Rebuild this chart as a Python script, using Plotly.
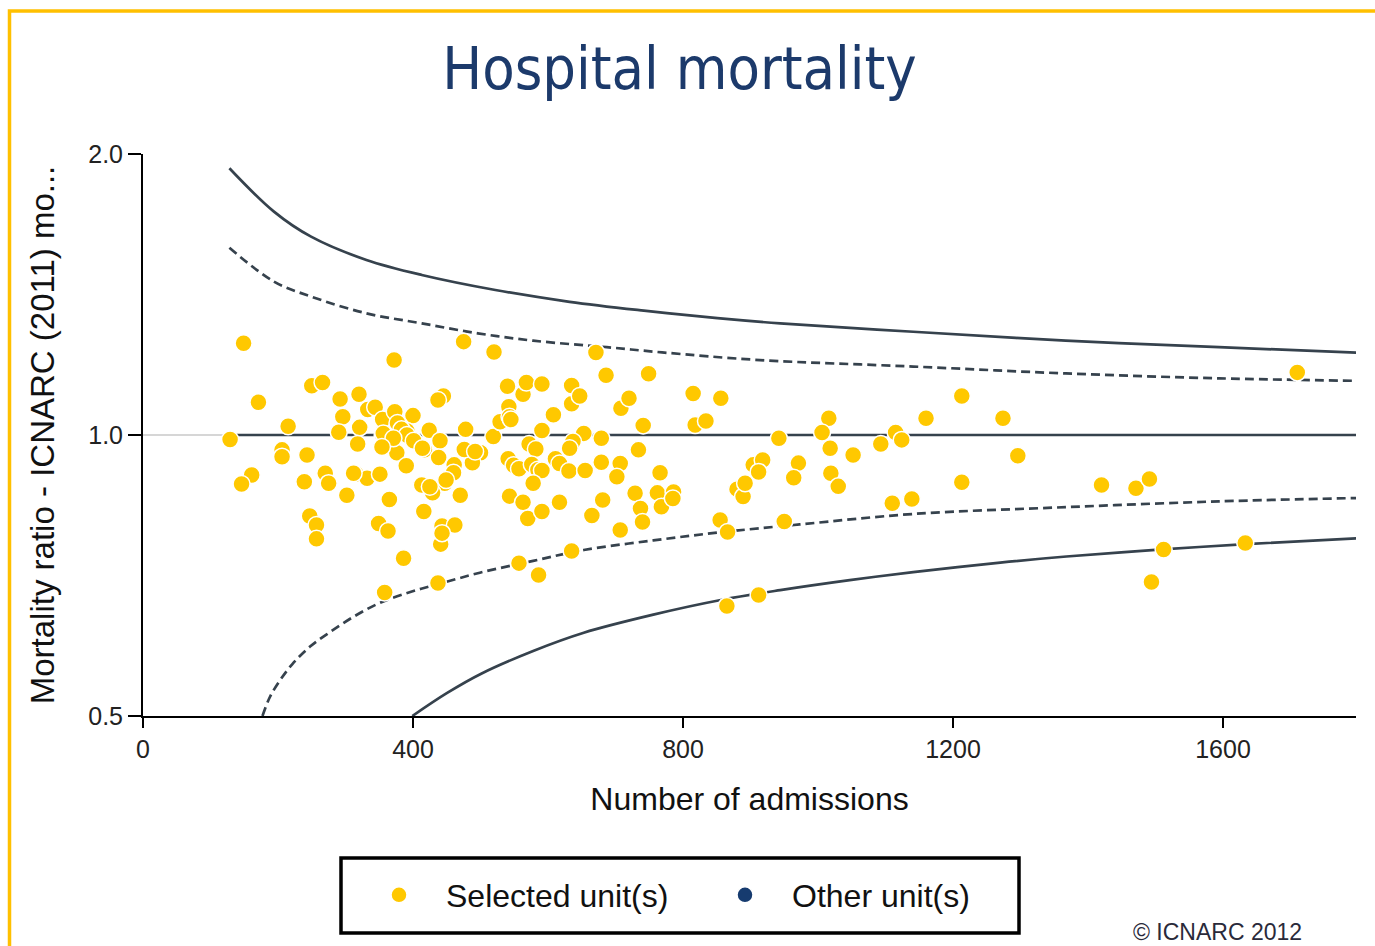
import math
import plotly.graph_objects as go

# ---- data ----
adm = [149, 372, 171, 250, 266, 292, 320, 296, 333, 344,
       321, 290, 318, 129, 215, 206, 206, 243, 161, 146,
       239, 270, 275, 302, 316, 332, 351, 365, 247, 257,
       257, 349, 363, 386, 358, 437, 475, 520, 445, 437,
       355, 373, 400, 381, 391, 355, 355, 372, 400, 424,
       440, 478, 376, 390, 417, 438, 461, 475, 500, 488,
       460, 447, 413, 429, 470, 416, 443, 462, 441, 443,
       519, 529, 377, 383, 356, 391, 371, 401, 414, 354,
       476, 492, 312, 449, 425,
       671, 686, 749, 540, 563, 568, 591, 635, 635, 647,
       708, 720, 815, 818, 834, 542, 543, 545, 608, 741,
       591, 653, 679, 572, 582, 637, 632, 734, 541, 549,
       557, 576, 585, 591, 611, 617, 631, 655, 679, 707,
       702, 766, 578, 543, 563, 570, 591, 617, 665, 681,
       729, 737, 740, 707, 762, 768, 786, 785, 635, 557,
       586, 855, 866, 865, 912, 880, 889, 892, 904, 918,
       912, 942,
       1710, 856, 1213, 1016, 1160, 1274, 1006, 1018, 1052, 1093,
       1115, 1124, 1296, 971, 964, 1019, 1030, 1213, 1110, 1139,
       1420, 1471, 1491, 950, 1512, 1633, 1494]
ratio = [1.254, 1.203, 1.084, 1.129, 1.138, 1.093, 1.106, 1.046, 1.065, 1.071,
         1.019, 1.007, 0.978, 0.989, 1.022, 0.964, 0.948, 0.952, 0.906, 0.886,
         0.891, 0.910, 0.888, 0.862, 0.908, 0.899, 0.908, 0.853, 0.819, 0.801,
         0.774, 0.804, 0.789, 0.738, 0.678, 0.694, 1.259, 1.227, 1.101, 1.090,
         1.039, 1.059, 1.049, 1.022, 1.010, 1.000, 0.973, 0.993, 0.988, 1.012,
         0.986, 1.014, 0.957, 0.927, 0.964, 0.946, 0.929, 0.964, 0.957, 0.934,
         0.911, 0.888, 0.884, 0.867, 0.862, 0.828, 0.799, 0.801, 0.764, 0.785,
         0.996, 1.033, 1.030, 1.014, 1.004, 1.000, 0.992, 0.986, 0.968, 0.971,
         0.965, 0.960, 0.910, 0.895, 0.880,
         1.226, 1.159, 1.163, 1.128, 1.106, 1.138, 1.134, 1.130, 1.080, 1.101,
         1.068, 1.095, 1.108, 1.025, 1.035, 1.072, 1.046, 1.039, 1.051, 1.024,
         1.011, 1.004, 0.992, 0.978, 0.966, 0.984, 0.968, 0.964, 0.943, 0.928,
         0.920, 0.930, 0.918, 0.916, 0.943, 0.932, 0.915, 0.916, 0.935, 0.932,
         0.902, 0.911, 0.888, 0.860, 0.847, 0.814, 0.828, 0.847, 0.820, 0.852,
         0.866, 0.834, 0.807, 0.791, 0.867, 0.838, 0.869, 0.855, 0.751, 0.729,
         0.708, 0.811, 0.787, 0.656, 0.674, 0.875, 0.859, 0.888, 0.929, 0.940,
         0.913, 0.992,
         1.167, 1.095, 1.101, 1.042, 1.042, 1.042, 1.006, 0.968, 0.952, 0.978,
         1.006, 0.988, 0.950, 0.933, 0.900, 0.910, 0.881, 0.890, 0.845, 0.854,
         0.884, 0.877, 0.897, 0.808, 0.754, 0.766, 0.696]

upper_998_x = [128, 194, 249, 331, 413, 522, 632, 742, 851, 944, 1141, 1367, 1594, 1798]
upper_998_y = [1.931, 1.735, 1.631, 1.540, 1.484, 1.430, 1.389, 1.359, 1.334, 1.317, 1.290, 1.262, 1.242, 1.225]
upper_95_x = [128, 194, 249, 331, 413, 496, 578, 687, 769, 914, 1141, 1367, 1594, 1798]
upper_95_y = [1.587, 1.460, 1.407, 1.350, 1.317, 1.285, 1.262, 1.242, 1.226, 1.203, 1.184, 1.164, 1.150, 1.143]
lower_95_x = [177, 188, 203, 221, 247, 277, 314, 351, 396, 440, 499, 578, 653, 756, 858, 973, 1141, 1368, 1594, 1798]
lower_95_y = [0.500, 0.524, 0.546, 0.568, 0.593, 0.615, 0.640, 0.661, 0.679, 0.693, 0.712, 0.733, 0.753, 0.771, 0.787,
              0.802, 0.823, 0.837, 0.849, 0.856]
lower_998_x = [399, 450, 501, 578, 653, 756, 858, 944, 1047, 1141, 1270, 1368, 1510, 1634, 1798]
lower_998_y = [0.500, 0.529, 0.555, 0.587, 0.614, 0.642, 0.666, 0.682, 0.699, 0.713, 0.730, 0.741, 0.754, 0.764, 0.775]
target_x = [128, 1798]
target_y = [1.0, 1.0]

x_ticks = [0, 400, 800, 1200, 1600]
y_ticks = [0.5, 1.0, 2.0]
y_tick_text = ["0.5", "1.0", "2.0"]

# ---- figure ----
LINE = "#36424d"
fig = go.Figure()
for xs, ys, dash in [(upper_998_x, upper_998_y, "solid"),
                     (upper_95_x, upper_95_y, "9px,5px"),
                     (lower_95_x, lower_95_y, "9px,5px"),
                     (lower_998_x, lower_998_y, "solid"),
                     (target_x, target_y, "solid")]:
    fig.add_trace(go.Scatter(x=xs, y=ys, mode="lines",
                             line=dict(color=LINE, width=2.7, dash=dash, shape="spline", smoothing=1),
                             showlegend=False, hoverinfo="skip"))

fig.add_trace(go.Scatter(x=adm, y=ratio, mode="markers", name="Selected unit(s)",
                         marker=dict(size=17, color="#FFC800", line=dict(color="white", width=1.5))))
fig.add_trace(go.Scatter(x=[None], y=[None], mode="markers", name="Other unit(s)",
                         marker=dict(size=17, color="#163B6F", line=dict(color="white", width=1.5))))

# plot area in pixels: left 143, right 1356, top 154, bottom 716
PL, PR, PT, PB = 143, 1356, 154, 716
W, H = PR - PL, PB - PT
def px(x):
    return (x - PL) / W
def py(y):
    return (PB - y) / H

TXT = "Liberation Sans, Arial, sans-serif"
fig.update_layout(
    width=1375, height=946,
    margin=dict(l=PL, r=1375 - PR, t=PT, b=946 - PB),
    paper_bgcolor="white", plot_bgcolor="white",
    title=dict(text="Hospital mortality", xref="container", yref="container",
               x=679.5 / 1375, xanchor="center", y=1 - 68 / 946, yanchor="middle",
               font=dict(family="DejaVu Sans Condensed, DejaVu Sans, sans-serif", size=59, color="#1c3a6b")),
    xaxis=dict(range=[0, 1797], tickvals=x_ticks, showgrid=False, zeroline=False,
               showline=True, linecolor="black", linewidth=2,
               ticks="outside", ticklen=10, tickwidth=2, tickcolor="black",
               tickfont=dict(family=TXT, size=25, color="#222"),
               title=dict(text="Number of admissions", standoff=26,
                          font=dict(family=TXT, size=32, color="#111"))),
    yaxis=dict(type="log", range=[math.log10(0.5), math.log10(2.0)],
               tickvals=y_ticks, ticktext=y_tick_text,
               showgrid=True, gridcolor="#d6d6d6", gridwidth=1.5, zeroline=False,
               showline=True, linecolor="black", linewidth=2,
               ticks="outside", ticklen=13, tickwidth=2, tickcolor="black",
               tickfont=dict(family=TXT, size=25, color="#222"),
               title=dict(text="Mortality ratio - ICNARC (2011) mo...", standoff=24,
                          font=dict(family=TXT, size=33, color="#111"))),
    legend=dict(orientation="h", x=px(352), y=py(895), xanchor="left", yanchor="middle",
                itemwidth=84, entrywidth=247, entrywidthmode="pixels",
                font=dict(family=TXT, size=32, color="#111"),
                bgcolor="rgba(0,0,0,0)", borderwidth=0),
    shapes=[
        dict(type="rect", xref="paper", yref="paper",
             x0=px(341), x1=px(1019), y0=py(933), y1=py(858),
             line=dict(color="black", width=3.5), fillcolor="rgba(0,0,0,0)"),
        dict(type="rect", xref="paper", yref="paper",
             x0=px(9.5), x1=px(1395), y0=py(975), y1=py(11),
             line=dict(color="#FFC000", width=3.5), fillcolor="rgba(0,0,0,0)"),
    ],
    annotations=[dict(text="© ICNARC 2012", xref="paper", yref="paper",
                      x=px(1217), y=py(932), xanchor="center", yanchor="middle",
                      showarrow=False, font=dict(family=TXT, size=23, color="#2a2a3a"))],
)

fig.write_html("out.html")
